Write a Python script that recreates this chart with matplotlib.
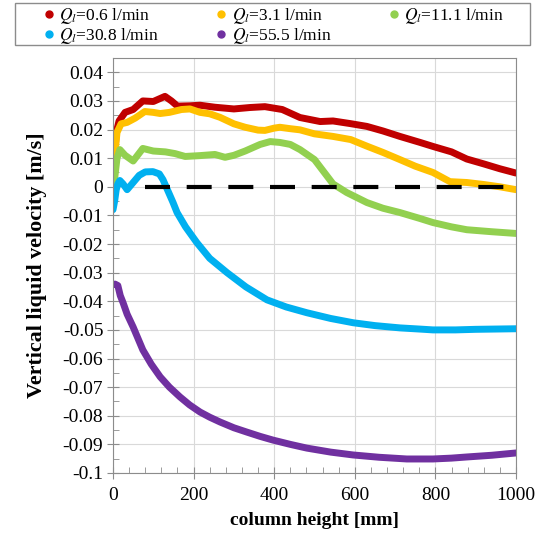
import matplotlib
matplotlib.use("Agg")
import matplotlib.pyplot as plt
from matplotlib.lines import Line2D
from matplotlib.patches import Rectangle
from matplotlib.ticker import MultipleLocator, FuncFormatter

# series (column height in mm, velocity in m/s)
labels = [r"$Q_l$=0.6 l/min", r"$Q_l$=3.1 l/min", r"$Q_l$=11.1 l/min",
          r"$Q_l$=30.8 l/min", r"$Q_l$=55.5 l/min"]
colors = ["#C00000", "#FFC000", "#92D050", "#00B0F0", "#7030A0"]

x_q06 = [0, 3, 8, 15, 30, 50, 74, 100, 129, 145, 160, 190, 216, 253, 300, 340, 377,
         420, 464, 514, 546, 588, 630, 670, 712, 762, 794, 840, 878, 920, 960, 1000]
v_q06 = [0.0, 0.008, 0.019, 0.023, 0.026, 0.027, 0.030, 0.0298, 0.0316, 0.0300, 0.0282,
         0.0283, 0.0285, 0.0278, 0.0272, 0.0277, 0.0280, 0.0270, 0.0242, 0.0228, 0.0230,
         0.0221, 0.0211, 0.0195, 0.0176, 0.0155, 0.0141, 0.0122, 0.0097, 0.0080, 0.0063, 0.0048]

x_q31 = [0, 5, 10, 20, 35, 55, 79, 100, 117, 140, 170, 191, 216, 240, 265, 300, 328, 360,
         377, 400, 414, 440, 464, 500, 546, 590, 630, 670, 712, 750, 794, 836, 878, 920, 960, 1000]
v_q31 = [0.0036, 0.012, 0.019, 0.022, 0.0225, 0.024, 0.0263, 0.026, 0.0256, 0.026, 0.027,
         0.0272, 0.026, 0.0255, 0.0243, 0.022, 0.0208, 0.0198, 0.0197, 0.0205, 0.0208, 0.0203,
         0.0199, 0.0185, 0.0176, 0.0165, 0.0142, 0.012, 0.0095, 0.0072, 0.005, 0.0018, 0.0015,
         0.0008, 0.0000, -0.0010]

x_q111 = [0, 5, 10, 17, 30, 50, 74, 100, 130, 154, 179, 216, 253, 278, 300, 328, 365, 390,
          414, 440, 464, 500, 546, 580, 630, 670, 712, 760, 794, 840, 878, 940, 1000]
v_q111 = [-0.0034, 0.004, 0.010, 0.013, 0.011, 0.009, 0.0134, 0.0125, 0.0122, 0.0116, 0.0106,
          0.0109, 0.0113, 0.0103, 0.0110, 0.0125, 0.0148, 0.0158, 0.0155, 0.0148, 0.013, 0.0095,
          0.001, -0.002, -0.0055, -0.0075, -0.009, -0.011, -0.0125, -0.014, -0.015, -0.0157, -0.0163]

x_q308 = [0, 4, 8, 12, 17, 25, 35, 50, 65, 80, 99, 115, 124, 135, 149, 159, 180, 208, 240,
          283, 330, 382, 430, 481, 540, 596, 650, 712, 760, 794, 850, 900, 950, 1000]
v_q308 = [-0.008, -0.005, -0.001, 0.001, 0.0022, 0.001, -0.001, 0.0015, 0.004, 0.0052, 0.0053,
          0.0045, 0.0025, -0.001, -0.0055, -0.009, -0.014, -0.0195, -0.025, -0.030, -0.035,
          -0.0395, -0.042, -0.044, -0.046, -0.0475, -0.0485, -0.0493, -0.0497, -0.050, -0.050,
          -0.0498, -0.0497, -0.0496]

x_q555 = [0, 5, 12, 18, 25, 35, 50, 74, 95, 117, 140, 166, 190, 216, 240, 266, 300, 332, 365,
          397, 440, 481, 540, 596, 660, 729, 794, 840, 878, 940, 1000]
v_q555 = [-0.0342, -0.0340, -0.0345, -0.038, -0.0405, -0.0445, -0.049, -0.057, -0.062, -0.0664,
          -0.070, -0.0734, -0.0762, -0.0787, -0.0805, -0.0822, -0.0842, -0.0857, -0.0872, -0.0885,
          -0.0900, -0.0913, -0.0927, -0.0937, -0.0945, -0.0951, -0.0951, -0.0948, -0.0944,
          -0.0938, -0.093]

zero_x = [80, 1000]
zero_v = [0, 0]

xs = [x_q06, x_q31, x_q111, x_q308, x_q555]
vs = [v_q06, v_q31, v_q111, v_q308, v_q555]

plt.rcParams["font.family"] = "Liberation Serif"
plt.rcParams["mathtext.fontset"] = "stix"

W, H = 542, 535
fig = plt.figure(figsize=(W / 100, H / 100), dpi=100)
ax = fig.add_axes([113 / W, 1 - 473 / H, 403 / W, 415 / H])

for x, v, c in zip(xs, vs, colors):
    ax.plot(x, v, color=c, lw=5, solid_capstyle="round", solid_joinstyle="round")
ax.plot(zero_x, zero_v, color="black", lw=3, dashes=(6, 4))

ax.set_xlim(0, 1000)
ax.set_ylim(-0.1, 0.045)
ax.xaxis.set_major_locator(MultipleLocator(200))
ax.xaxis.set_minor_locator(MultipleLocator(40))
ax.yaxis.set_major_locator(MultipleLocator(0.01))
ax.yaxis.set_minor_locator(MultipleLocator(0.005))
ax.yaxis.set_major_formatter(FuncFormatter(lambda v, p: "%g" % round(v, 3)))
ax.grid(True, which="major", color="#D9D9D9", lw=0.8)
ax.set_axisbelow(True)
for s in ax.spines.values():
    s.set_color("#8C8C8C")
ax.tick_params(which="major", direction="inout", length=8, color="#8C8C8C",
               labelsize=14, pad=3)
ax.tick_params(axis="x", which="major", pad=6)
ax.tick_params(which="minor", direction="in", length=4, color="#8C8C8C")

ax.set_xlabel("column height [mm]", fontsize=14, fontweight="bold", labelpad=6)
ax.set_ylabel("Vertical liquid velocity [m/s]", fontsize=15.8, fontweight="bold", labelpad=11)

# legend: row-major order like the reference, frame drawn separately
order = [0, 3, 1, 4, 2]
handles = [Line2D([], [], marker="o", ls="none", color=colors[i], markersize=5) for i in order]
leg = fig.legend(handles, [labels[i] for i in order], loc="upper left", ncol=3, mode="expand",
                 bbox_to_anchor=(28 / W, 1 + 6 / H, 488 / W, 0.0), fontsize=12.5,
                 frameon=False, handletextpad=0.1, handlelength=1.0,
                 borderpad=0.2, labelspacing=0.0)
fig.patches.append(Rectangle((15 / W, 1 - 45 / H), 515 / W, 42 / H, transform=fig.transFigure,
                             fill=False, edgecolor="#8C8C8C", lw=1.0))

fig.savefig("out.png", dpi=100)
